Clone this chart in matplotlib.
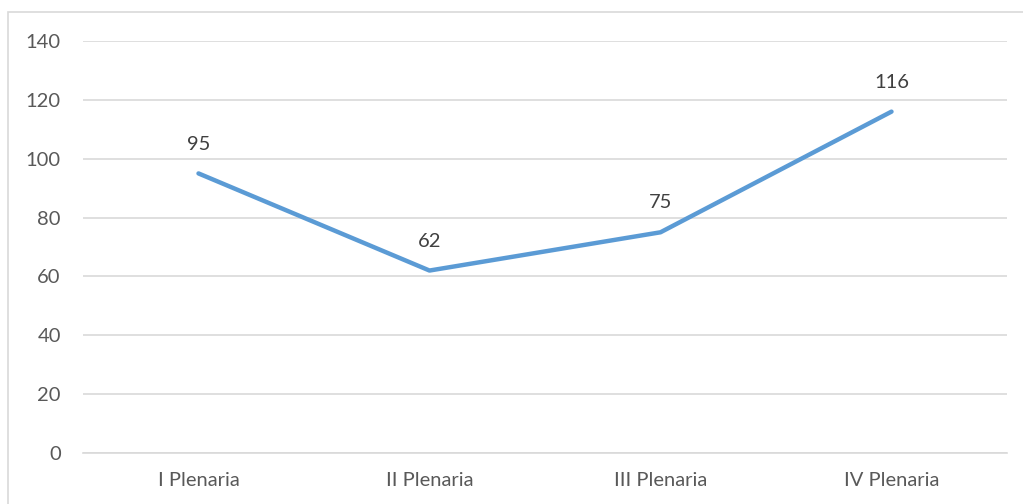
import matplotlib
matplotlib.use("Agg")
import matplotlib.pyplot as plt
from matplotlib.patches import Rectangle

categories = ["I Plenaria", "II Plenaria", "III Plenaria", "IV Plenaria"]
values = [95, 62, 75, 116]
yticks = [0, 20, 40, 60, 80, 100, 120, 140]

plt.rcParams['font.family'] = ['Lato', 'DejaVu Sans']
W, H = 1023, 504
fig = plt.figure(figsize=(W/100, H/100), dpi=100)
ax = fig.add_axes([83/W, (H-453)/H, (1007-83)/W, (453-41)/H])

fig.patches.append(Rectangle((8/W, -0.1), 1.2, (H-12)/H + 0.1, transform=fig.transFigure,
                             fill=False, edgecolor='#d9d9d9', linewidth=1.2))

x = list(range(len(categories)))
ax.plot(x, values, color='#5b9bd5', linewidth=3.2, solid_capstyle='round')
for xi, v in zip(x, values):
    ax.annotate(str(v), (xi, v), xytext=(0, 15), textcoords='offset points',
                ha='center', va='bottom', fontsize=14.5, color='#404040')

ax.set_xlim(-0.5, len(categories) - 0.5)
ax.set_ylim(0, 140)
ax.set_yticks(yticks)
ax.set_xticks(x)
ax.set_xticklabels(categories)
ax.grid(axis='y', color='#d9d9d9', linewidth=1.2)
ax.set_axisbelow(True)
for s in ['top', 'right', 'left']:
    ax.spines[s].set_visible(False)
ax.spines['bottom'].set_color('#d9d9d9')
ax.spines['bottom'].set_linewidth(1.2)
ax.tick_params(axis='both', length=0, labelsize=14.5, labelcolor='#595959')
ax.tick_params(axis='y', pad=16)
ax.tick_params(axis='x', pad=14)

fig.savefig('out.png', dpi=100)
